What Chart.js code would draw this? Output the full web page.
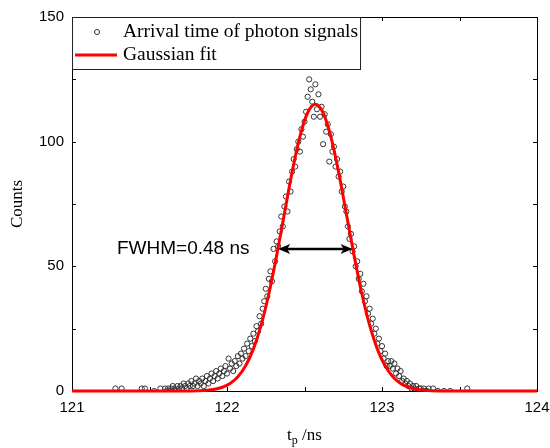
<!DOCTYPE html>
<html>
<head>
<meta charset="utf-8">
<script src="https://cdn.jsdelivr.net/npm/chart.js@4.4.0/dist/chart.umd.min.js"></script>
<style>
html, body { margin: 0; padding: 0; background: #fff; }
#wrap { width: 550px; height: 448px; }
</style>
</head>
<body>
<div id="wrap"><canvas id="chart"></canvas></div>
<script>
// Measured arrival times (ns) and counts per bin
const binTimes = [
    121.28, 121.32, 121.45, 121.47, 121.53, 121.57,
    121.60, 121.61, 121.62, 121.63, 121.64, 121.65, 121.66, 121.67, 121.68, 121.69,
    121.70, 121.71, 121.72, 121.73, 121.74, 121.75, 121.76, 121.77, 121.78, 121.79,
    121.80, 121.81, 121.82, 121.83, 121.84, 121.85, 121.86, 121.87, 121.88, 121.89,
    121.90, 121.91, 121.92, 121.93, 121.94, 121.95, 121.96, 121.97, 121.98, 121.99,
    122.00, 122.01, 122.02, 122.03, 122.04, 122.05, 122.06, 122.07, 122.08, 122.09,
    122.10, 122.11, 122.12, 122.13, 122.14, 122.15, 122.16, 122.17, 122.18, 122.19,
    122.20, 122.21, 122.22, 122.23, 122.24, 122.25, 122.26, 122.27, 122.28, 122.29,
    122.30, 122.31, 122.32, 122.33, 122.34, 122.35, 122.36, 122.37, 122.38, 122.39,
    122.40, 122.41, 122.42, 122.43, 122.44, 122.45, 122.46, 122.47, 122.48, 122.49,
    122.50, 122.51, 122.52, 122.53, 122.54, 122.55, 122.56, 122.57, 122.58, 122.59,
    122.60, 122.61, 122.62, 122.63, 122.64, 122.65, 122.66, 122.67, 122.68, 122.69,
    122.70, 122.71, 122.72, 122.73, 122.74, 122.75, 122.76, 122.77, 122.78, 122.79,
    122.80, 122.81, 122.82, 122.83, 122.84, 122.85, 122.86, 122.87, 122.88, 122.89,
    122.90, 122.91, 122.92, 122.93, 122.94, 122.95, 122.96, 122.97, 122.98, 122.99,
    123.00, 123.01, 123.02, 123.03, 123.04, 123.05, 123.06, 123.07, 123.08, 123.09,
    123.10, 123.11, 123.12, 123.13, 123.14, 123.15, 123.16, 123.17, 123.18, 123.19,
    123.20, 123.21, 123.22, 123.23, 123.24, 123.25, 123.26, 123.27, 123.28, 123.29,
    123.30, 123.33, 123.36, 123.40, 123.44, 123.55
];
const binCounts = [
    1, 1, 1, 1, 0, 1,
    1, 0, 1, 0, 1, 2, 1, 0, 2, 1,
    2, 1, 3, 2, 1, 3, 2, 4, 2, 3,
    5, 2, 4, 3, 5, 2, 4, 6, 3, 5,
    7, 4, 6, 8, 5, 7, 9, 6, 8, 10,
    7, 13, 9, 11, 8, 12, 10, 14, 11, 15,
    13, 17, 14, 19, 16, 21, 18, 23, 20, 26,
    24, 30, 27, 33, 36, 41, 38, 45, 48, 44,
    57, 52, 60, 58, 64, 70, 66, 74, 78, 72,
    84, 80, 88, 93, 90, 97, 100, 96, 105, 102,
    108, 112, 118, 125, 121, 116, 110, 123, 113, 119,
    110, 114, 99, 111, 104, 107, 92, 103, 96, 98,
    90, 93, 86, 88, 80, 82, 74, 72, 66, 61,
    63, 56, 58, 50, 52, 45, 47, 40, 43, 36,
    38, 31, 33, 27, 29, 23, 25, 19, 21, 16,
    18, 13, 15, 10, 12, 10, 12, 9, 11, 7,
    9, 6, 8, 4, 5, 3, 4, 2, 3, 1,
    2, 1, 2, 0, 1, 1, 0, 1, 0, 0,
    1, 1, 0, 0, 0, 1
];

// Gaussian fit curve
const fitTimes = [
    121.00, 121.77, 121.82, 121.87, 121.92, 121.97, 122.02, 122.07, 122.12, 122.17,
    122.22, 122.27, 122.32, 122.37, 122.42, 122.47, 122.52, 122.57, 122.62, 122.67,
    122.72, 122.77, 122.82, 122.87, 122.92, 122.97, 123.02, 123.07, 123.12, 123.17,
    123.22, 123.27, 123.32, 123.37, 124.00
];
const fitCounts = [
    0, 0.05, 0.1, 0.3, 0.7, 1.5, 3.0, 5.7, 10.1, 16.8,
    26.4, 39.0, 54.3, 71.1, 87.8, 102.0, 111.6, 115.0, 111.6, 102.0,
    87.8, 71.1, 54.3, 39.0, 26.4, 16.8, 10.1, 5.7, 3.0, 1.5,
    0.7, 0.3, 0.1, 0.05, 0
];

const xTickLabels = [121, 122, 123, 124];
const yTickLabels = [0, 50, 100, 150];
const seriesNames = ['Arrival time of photon signals', 'Gaussian fit'];
const fwhmText = 'FWHM=0.48 ns';
const fwhmEnds = [122.33, 122.81];
const fwhmLevel = 57;

const serif = '"Liberation Serif", "Times New Roman", serif';
const sans = '"Liberation Sans", Arial, sans-serif';

const photonPoints = binTimes.map((t, i) => ({ x: t, y: binCounts[i] }));
const fitPoints = fitTimes.map((t, i) => ({ x: t, y: fitCounts[i] }));

// frame with inward ticks on all four sides
const framePlugin = {
    id: 'frame',
    beforeDatasetsDraw(chart) {
        const { ctx, chartArea: a, scales: { x, y } } = chart;
        ctx.save();
        ctx.strokeStyle = '#000';
        ctx.lineWidth = 1;
        ctx.strokeRect(a.left + 0.5, a.top + 0.5, a.right - a.left, a.bottom - a.top);
        ctx.beginPath();
        x.ticks.forEach(t => {
            const px = Math.round(x.getPixelForValue(t.value)) + 0.5;
            ctx.moveTo(px, a.bottom); ctx.lineTo(px, a.bottom - 4);
            ctx.moveTo(px, a.top); ctx.lineTo(px, a.top + 4);
        });
        y.ticks.forEach(t => {
            const py = Math.round(y.getPixelForValue(t.value)) + 0.5;
            ctx.moveTo(a.left, py); ctx.lineTo(a.left + 4, py);
            ctx.moveTo(a.right, py); ctx.lineTo(a.right - 4, py);
        });
        ctx.stroke();
        ctx.restore();
    },
    afterDatasetsDraw(chart) {
        const { ctx, chartArea: a, scales: { x, y } } = chart;
        ctx.save();

        // legend box
        ctx.fillStyle = '#fff';
        ctx.fillRect(a.left, a.top, 288, 52);
        ctx.strokeStyle = '#222';
        ctx.lineWidth = 1;
        ctx.strokeRect(a.left + 0.5, a.top + 0.5, 288, 52);
        ctx.beginPath();
        ctx.arc(a.left + 25, a.top + 15, 2.5, 0, Math.PI * 2);
        ctx.strokeStyle = '#333';
        ctx.stroke();
        ctx.strokeStyle = '#ff0000';
        ctx.lineWidth = 3;
        ctx.beginPath();
        ctx.moveTo(a.left + 3, a.top + 38);
        ctx.lineTo(a.left + 45, a.top + 38);
        ctx.stroke();
        ctx.fillStyle = '#000';
        ctx.font = '19.5px ' + serif;
        ctx.textBaseline = 'middle';
        ctx.textAlign = 'left';
        ctx.fillText(seriesNames[0], a.left + 51, a.top + 15);
        ctx.fillText(seriesNames[1], a.left + 51, a.top + 38);

        // FWHM arrow
        const x1 = x.getPixelForValue(fwhmEnds[0]);
        const x2 = x.getPixelForValue(fwhmEnds[1]);
        const py = y.getPixelForValue(fwhmLevel);
        ctx.strokeStyle = '#000';
        ctx.fillStyle = '#000';
        ctx.lineWidth = 2.5;
        ctx.beginPath();
        ctx.moveTo(x1 + 8, py); ctx.lineTo(x2 - 8, py);
        ctx.stroke();
        ctx.beginPath();
        ctx.moveTo(x1, py); ctx.lineTo(x1 + 12, py - 5); ctx.lineTo(x1 + 9, py); ctx.lineTo(x1 + 12, py + 5);
        ctx.closePath(); ctx.fill();
        ctx.beginPath();
        ctx.moveTo(x2, py); ctx.lineTo(x2 - 12, py - 5); ctx.lineTo(x2 - 9, py); ctx.lineTo(x2 - 12, py + 5);
        ctx.closePath(); ctx.fill();
        ctx.font = '19px ' + sans;
        ctx.textAlign = 'left';
        ctx.fillText(fwhmText, 117, py);

        // axis titles
        ctx.font = '17px ' + serif;
        ctx.textBaseline = 'alphabetic';
        const w1 = ctx.measureText('t').width;
        ctx.font = '12px ' + serif;
        const w2 = ctx.measureText('p').width;
        ctx.font = '17px ' + serif;
        const w3 = ctx.measureText(' /ns').width;
        let tx = (a.left + a.right) / 2 - (w1 + w2 + w3) / 2;
        ctx.fillText('t', tx, 440);
        ctx.font = '12px ' + serif;
        ctx.fillText('p', tx + w1, 444);
        ctx.font = '17px ' + serif;
        ctx.fillText(' /ns', tx + w1 + w2, 440);

        ctx.translate(18, (a.top + a.bottom) / 2);
        ctx.rotate(-Math.PI / 2);
        ctx.textAlign = 'center';
        ctx.textBaseline = 'middle';
        ctx.fillText('Counts', 0, 0);
        ctx.restore();
    }
};

const ctx = document.getElementById('chart').getContext('2d');
new Chart(ctx, {
    type: 'scatter',
    data: {
        datasets: [{
            label: seriesNames[0],
            data: photonPoints,
            pointStyle: 'circle',
            pointRadius: 2.6,
            borderColor: '#333',
            borderWidth: 1,
            backgroundColor: 'rgba(0,0,0,0)',
            order: 1
        }, {
            label: seriesNames[1],
            type: 'line',
            data: fitPoints,
            borderColor: '#ff0000',
            borderWidth: 3,
            pointRadius: 0,
            fill: false,
            cubicInterpolationMode: 'monotone',
            clip: 3,
            order: 0
        }]
    },
    options: {
        responsive: true,
        maintainAspectRatio: false,
        animation: false,
        layout: { padding: { left: 31, right: 0, top: 8, bottom: 23 } },
        plugins: {
            legend: { display: false },
            tooltip: { enabled: false }
        },
        scales: {
            x: {
                type: 'linear',
                min: 121,
                max: 124,
                grid: { display: false, drawTicks: false },
                border: { display: false },
                afterFit: scale => { scale.paddingRight = 13; },
                ticks: {
                    stepSize: 0.5,
                    autoSkip: false,
                    maxRotation: 0,
                    padding: 8,
                    color: '#000',
                    font: { family: sans, size: 15 },
                    callback: v => xTickLabels.includes(v) ? String(v) : ''
                }
            },
            y: {
                min: 0,
                max: 150,
                grid: { display: false, drawTicks: false },
                border: { display: false },
                ticks: {
                    stepSize: 25,
                    autoSkip: false,
                    padding: 8,
                    color: '#000',
                    font: { family: sans, size: 15 },
                    callback: v => yTickLabels.includes(v) ? String(v) : ''
                }
            }
        }
    },
    plugins: [framePlugin]
});
</script>
</body>
</html>
